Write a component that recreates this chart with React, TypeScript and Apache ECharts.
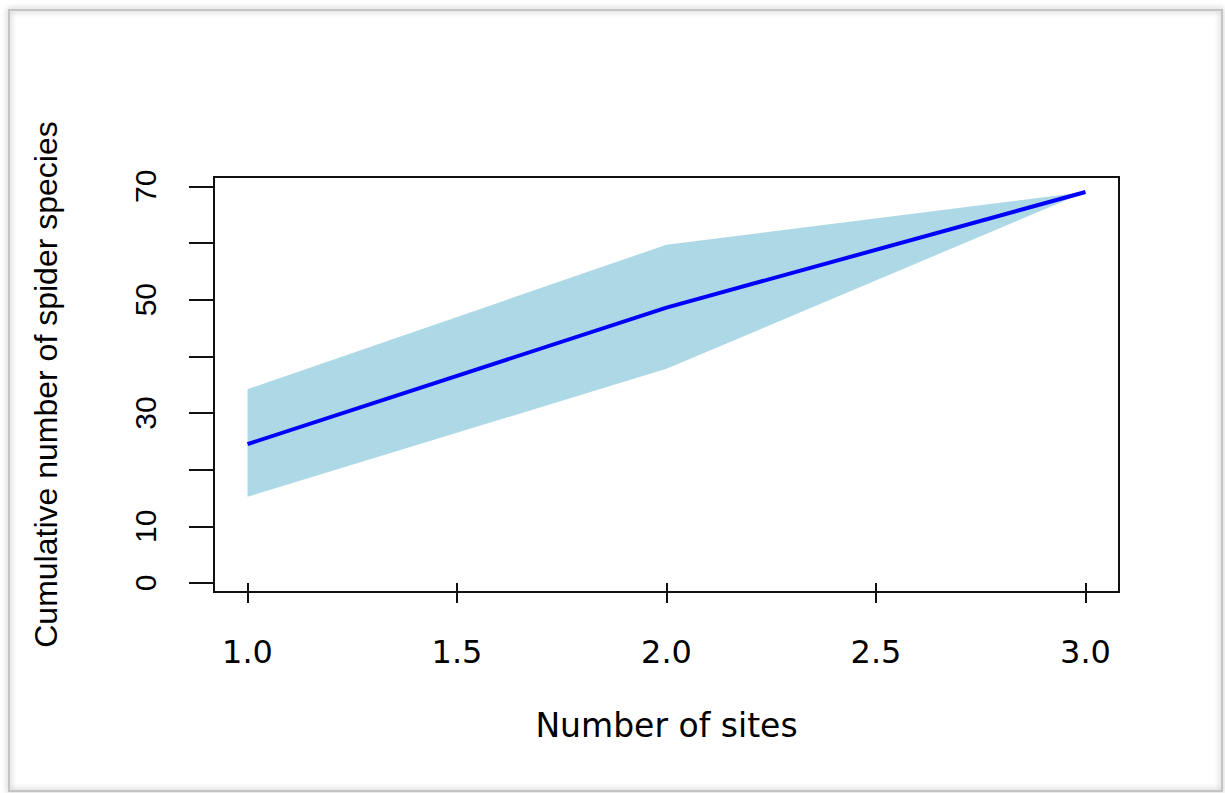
import React, { useEffect, useRef } from "react";
import * as echarts from "echarts";

const sites = [1, 2, 3];
const meanSpecies = [24.5, 48.6, 69];
const lowerSpecies = [15.2, 37.8, 69];
const upperSpecies = [34.2, 59.7, 69];
const xTicks = [1, 1.5, 2, 2.5, 3];
const yTicks = [0, 10, 20, 30, 40, 50, 60, 70];
const yLabels = [0, 10, 30, 50, 70];
const xTitle = "Number of sites";
const yTitle = "Cumulative number of spider species";

export default function App() {
  const ref = useRef<HTMLDivElement>(null);
  useEffect(() => {
    const chart = echarts.init(ref.current!, null, { renderer: "svg" });
    chart.setOption({
      animation: false,
      backgroundColor: "#ffffff",
      graphic: [
        {
          type: "rect",
          z: -10,
          shape: { x: 9, y: 10, width: 1213, height: 781 },
          style: {
            fill: "none",
            stroke: "#c4c4c4",
            lineWidth: 2,
            shadowBlur: 6,
            shadowColor: "rgba(0,0,0,0.35)",
          },
        },
      ],
      grid: {
        left: 214,
        right: 106,
        top: 177,
        bottom: 201,
        show: true,
        borderColor: "#111",
        borderWidth: 2,
        backgroundColor: "transparent",
      },
      xAxis: {
        type: "value",
        min: 0.92,
        max: 3.08,
        axisLine: { show: false },
        splitLine: { show: false },
        axisTick: {
          show: true,
          length: 20,
          lineStyle: { color: "#111", width: 2 },
          customValues: xTicks,
        },
        axisLabel: {
          customValues: xTicks,
          formatter: (v: number) => v.toFixed(1),
          margin: 44,
          fontSize: 32,
          fontFamily: "DejaVu Sans",
          color: "#000",
        },
        name: xTitle,
        nameLocation: "middle",
        nameGap: 117,
        nameTextStyle: { fontSize: 33, fontFamily: "DejaVu Sans", color: "#000" },
      },
      yAxis: {
        type: "value",
        min: -1.6,
        max: 71.65,
        axisLine: { show: false },
        splitLine: { show: false },
        axisTick: {
          show: true,
          length: 25,
          lineStyle: { color: "#111", width: 2 },
          customValues: yTicks,
        },
        axisLabel: {
          customValues: yLabels,
          rotate: 90,
          margin: 54,
          fontSize: 30,
          fontFamily: "Liberation Sans",
          color: "#000",
        },
        name: yTitle,
        nameLocation: "middle",
        nameGap: 152,
        nameTextStyle: { fontSize: 32, fontFamily: "Liberation Sans", color: "#000" },
      },
      series: [
        {
          type: "custom",
          silent: true,
          z: 1,
          data: [[sites[0], lowerSpecies[0]]],
          renderItem: (params: any, api: any) => {
            const pts: number[][] = [];
            sites.forEach((s, i) => pts.push(api.coord([s, upperSpecies[i]])));
            for (let i = sites.length - 1; i >= 0; i--) {
              pts.push(api.coord([sites[i], lowerSpecies[i]]));
            }
            return {
              type: "polygon",
              shape: { points: pts },
              style: { fill: "#ADD8E6" },
            };
          },
        },
        {
          type: "line",
          z: 3,
          symbol: "none",
          data: sites.map((s, i) => [s, meanSpecies[i]]),
          lineStyle: { color: "#0000FF", width: 4 },
        },
      ],
    });
    return () => chart.dispose();
  }, []);
  return (
    <div
      ref={ref}
      style={{ position: "fixed", left: 0, top: 0, width: 1225, height: 793 }}
    />
  );
}
